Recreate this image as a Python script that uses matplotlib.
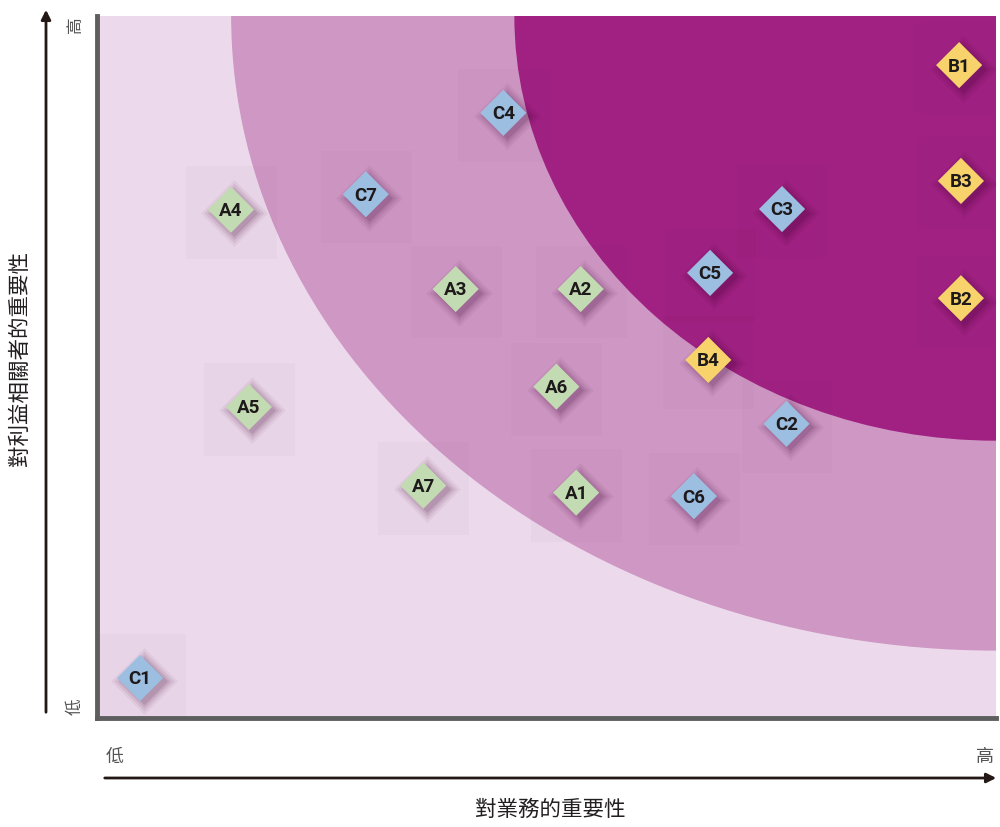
import numpy as np
import matplotlib.pyplot as plt
from matplotlib.patches import Ellipse, Rectangle, FancyArrowPatch
from matplotlib import transforms

plt.rcParams['font.family'] = ['Noto Sans CJK TC', 'DejaVu Sans']

labels = ['B1', 'B3', 'B2', 'C4', 'C7', 'A4', 'C3', 'A3', 'A2', 'C5',
          'B4', 'A6', 'A5', 'C2', 'A7', 'A1', 'C6', 'C1']
x_vals = [9.59, 9.61, 9.61, 4.52, 2.99, 1.49, 7.62, 3.99, 5.38, 6.82,
          6.80, 5.11, 1.69, 7.67, 3.63, 5.33, 6.64, 0.48]
y_vals = [9.30, 7.65, 5.98, 8.62, 7.46, 7.24, 7.25, 6.11, 6.11, 6.34,
          5.10, 4.72, 4.43, 4.19, 3.31, 3.21, 3.16, 0.57]

group_colors = {'A': '#C3DBB2', 'B': '#F8D36B', 'C': '#9CBEE0'}

x_title = '對業務的重要性'
y_title = '對利益相關者的重要性'
low_txt, high_txt = '低', '高'

fig = plt.figure(figsize=(10, 8.27), dpi=100)
ax = fig.add_axes([0.097, 0.1318, 0.899, 0.8489])
ax.set_xlim(0, 10)
ax.set_ylim(0, 10)
ax.set_facecolor('#ECD9EB')

# priority zones, centred on the top right corner
ax.add_patch(Ellipse((10, 10), 2 * 8.5, 2 * 9.03, color='#CE97C4', zorder=1))
ax.add_patch(Ellipse((10, 10), 2 * 5.35, 2 * 6.04, color='#A12182', zorder=2))

for s in ['top', 'right']:
    ax.spines[s].set_visible(False)
for s in ['left', 'bottom']:
    ax.spines[s].set_color('#5E5E5E')
    ax.spines[s].set_linewidth(3.5)
    ax.spines[s].set_zorder(10)
ax.set_xticks([])
ax.set_yticks([])

# faint boxes behind each marker
for xv, yv in zip(x_vals, y_vals):
    ax.add_patch(Rectangle((xv - 0.5, yv - 0.7), 1.01, 1.32,
                           facecolor='#3a0030', alpha=0.02, lw=0, zorder=3))

# blurred drop shadow
for sz, al in [(1.45, 0.05), (1.3, 0.07), (1.15, 0.09), (1.02, 0.12)]:
    sh = transforms.offset_copy(ax.transData, fig=fig, x=3.5, y=-3.5, units='dots')
    ax.scatter(x_vals, y_vals, marker='D', s=(23.5 * sz) ** 2,
               color='#3a0030', alpha=al, lw=0, transform=sh, zorder=4)

cols = [group_colors[l[0]] for l in labels]
ax.scatter(x_vals, y_vals, marker='D', s=23.5 ** 2, c=cols, lw=0, zorder=5)
for l, xv, yv in zip(labels, x_vals, y_vals):
    ax.text(xv, yv - 0.02, l, ha='center', va='center', fontsize=13.5,
            fontweight='bold', family=['Roboto', 'DejaVu Sans'],
            color='#1E1A1B', zorder=6)

# axis arrows outside the plot
fig.add_artist(FancyArrowPatch((46, 112), (46, 820), transform=None,
                               arrowstyle='-|>', mutation_scale=14, lw=2,
                               color='#231815'))
fig.add_artist(FancyArrowPatch((102, 49), (999, 49), transform=None,
                               arrowstyle='-|>', mutation_scale=14, lw=2,
                               color='#231815'))

fig.text(75 / 1000, 802 / 827, high_txt, rotation=90, ha='center', va='center',
         fontsize=12, color='#555555')
fig.text(75 / 1000, 120 / 827, low_txt, rotation=90, ha='center', va='center',
         fontsize=12, color='#555555')
fig.text(115 / 1000, 70 / 827, low_txt, ha='center', va='center',
         fontsize=13, color='#555555')
fig.text(985 / 1000, 70 / 827, high_txt, ha='center', va='center',
         fontsize=13, color='#555555')
fig.text(20 / 1000, 468 / 827, y_title, rotation=90, ha='center', va='center',
         fontsize=15.5, color='#231F20')
fig.text(550 / 1000, 17 / 827, x_title, ha='center', va='center',
         fontsize=15.5, color='#231F20')

fig.savefig('out.png', dpi=100)
